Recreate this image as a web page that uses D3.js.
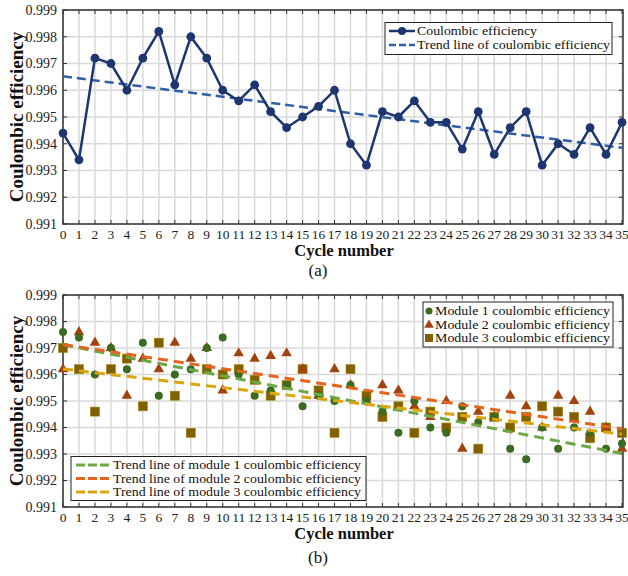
<!DOCTYPE html>
<html>
<head>
<meta charset="utf-8">
<script src="https://cdn.jsdelivr.net/npm/d3@7"></script>
<style>
  body { margin: 0; background: #fff; }
  svg { font-family: "Liberation Serif", "Times New Roman", serif; }
</style>
</head>
<body>
<div id="chart"></div>
<script>
// cycle numbers on the x axis and the value ticks on the y axis
const cycles = [0,1,2,3,4,5,6,7,8,9,10,11,12,13,14,15,16,17,18,19,20,21,22,23,24,25,26,27,28,29,30,31,32,33,34,35];
const yTicks = [0.991,0.992,0.993,0.994,0.995,0.996,0.997,0.998,0.999];

// panel (a): pack coulombic efficiency
const effA = [0.9944,0.9934,0.9972,0.9970,0.9960,0.9972,0.9982,0.9962,0.9980,0.9972,0.9960,0.9956,0.9962,0.9952,0.9946,0.9950,0.9954,0.9960,0.9940,0.9932,0.9952,0.9950,0.9956,0.9948,0.9948,0.9938,0.9952,0.9936,0.9946,0.9952,0.9932,0.9940,0.9936,0.9946,0.9936,0.9948];
// trend lines are given by their two end points (cycle 0 and 35)
const trendCycles = [0, 35];
const trendA = [0.99652, 0.99385];

// panel (b): three modules
const module1 = [0.9976,0.9974,0.9960,0.9970,0.9962,0.9972,0.9952,0.9960,0.9962,0.9970,0.9974,0.9960,0.9952,0.9954,0.9956,0.9948,0.9952,0.9950,0.9956,0.9950,0.9946,0.9938,0.9950,0.9940,0.9938,0.9948,0.9942,0.9944,0.9932,0.9928,0.9940,0.9932,0.9940,0.9938,0.9932,0.9934];
const module2 = [0.9962,0.9976,0.9972,0.9970,0.9952,0.9966,0.9962,0.9972,0.9966,0.9970,0.9954,0.9968,0.9966,0.9967,0.9968,0.9962,0.9952,0.9962,0.9956,0.9950,0.9956,0.9954,0.9948,0.9944,0.9950,0.9932,0.9946,0.9944,0.9952,0.9948,0.9940,0.9952,0.9950,0.9946,0.9940,0.9932];
const module3 = [0.9970,0.9962,0.9946,0.9962,0.9966,0.9948,0.9972,0.9952,0.9938,0.9962,0.9960,0.9962,0.9958,0.9952,0.9956,0.9962,0.9954,0.9938,0.9962,0.9952,0.9944,0.9948,0.9938,0.9946,0.9940,0.9944,0.9932,0.9944,0.9940,0.9944,0.9948,0.9946,0.9944,0.9936,0.9940,0.9938];
const trend1 = [0.99712, 0.99302];
const trend2 = [0.99713, 0.99395];
const trend3 = [0.99621, 0.99375];

const W = 628, H = 576;
const svg = d3.select("#chart").append("svg")
    .attr("width", W).attr("height", H);

const x = d3.scaleLinear().domain([0, 35]).range([63, 622]);

// draws grid, frame, ticks and labels for one panel, returns its y scale
function panel(top, bottom, tag, tagOff) {
    const y = d3.scaleLinear().domain([0.991, 0.999]).range([bottom, top]);
    const g = svg.append("g");

    // grid
    g.selectAll(".vg").data(cycles).join("line")
        .attr("x1", d => x(d)).attr("x2", d => x(d))
        .attr("y1", top).attr("y2", bottom)
        .attr("stroke", "#d9d9d9").attr("stroke-width", 1.5);
    g.selectAll(".hg").data(yTicks).join("line")
        .attr("x1", x(0)).attr("x2", x(35) + 1)
        .attr("y1", d => y(d)).attr("y2", d => y(d))
        .attr("stroke", "#d9d9d9").attr("stroke-width", 1.5);

    // inward ticks on all four sides
    const tk = 4;
    g.selectAll(".tt").data(cycles).join("line")
        .attr("x1", d => x(d)).attr("x2", d => x(d))
        .attr("y1", top).attr("y2", top + tk)
        .attr("stroke", "#333").attr("stroke-width", 1);
    g.selectAll(".tb").data(cycles).join("line")
        .attr("x1", d => x(d)).attr("x2", d => x(d))
        .attr("y1", bottom).attr("y2", bottom - tk)
        .attr("stroke", "#333").attr("stroke-width", 1);
    g.selectAll(".tl").data(yTicks).join("line")
        .attr("x1", x(0)).attr("x2", x(0) + tk)
        .attr("y1", d => y(d)).attr("y2", d => y(d))
        .attr("stroke", "#333").attr("stroke-width", 1);
    g.selectAll(".tr").data(yTicks).join("line")
        .attr("x1", x(35) + 1).attr("x2", x(35) + 1 - tk)
        .attr("y1", d => y(d)).attr("y2", d => y(d))
        .attr("stroke", "#333").attr("stroke-width", 1);

    // frame
    g.append("rect")
        .attr("x", x(0)).attr("y", top)
        .attr("width", x(35) + 1 - x(0)).attr("height", bottom - top)
        .attr("fill", "none").attr("stroke", "#333").attr("stroke-width", 1.5);

    // tick labels
    g.selectAll(".yl").data(yTicks).join("text")
        .attr("x", x(0) - 6).attr("y", d => y(d))
        .attr("dy", "0.35em").attr("text-anchor", "end")
        .attr("font-size", 14).attr("fill", "#222")
        .text(d => d3.format(".3f")(d));
    g.selectAll(".xl").data(cycles).join("text")
        .attr("x", d => x(d)).attr("y", bottom + 15)
        .attr("text-anchor", "middle")
        .attr("font-size", 13.5).attr("fill", "#222")
        .text(d => d);

    // axis titles
    g.append("text")
        .attr("transform", `translate(23, ${(top + bottom) / 2}) rotate(-90)`)
        .attr("text-anchor", "middle").attr("font-weight", "bold")
        .attr("font-size", 19).attr("fill", "#111")
        .text("Coulombic efficiency");
    g.append("text")
        .attr("x", 344).attr("y", bottom + 32)
        .attr("text-anchor", "middle").attr("font-weight", "bold")
        .attr("font-size", 16.5).attr("fill", "#111")
        .text("Cycle number");
    g.append("text")
        .attr("x", 318).attr("y", bottom + tagOff)
        .attr("text-anchor", "middle")
        .attr("font-size", 17).attr("fill", "#111")
        .text(tag);
    return y;
}

// ---------- panel (a) ----------
const yA = panel(10, 224, "(a)", 52);
const navy = "#1d3670", blue = "#2f5ea6";

svg.append("path")
    .datum(trendCycles.map((c, i) => [c, trendA[i]]))
    .attr("fill", "none").attr("stroke", blue).attr("stroke-width", 2.5)
    .attr("stroke-dasharray", "9,5")
    .attr("d", d3.line().x(d => x(d[0])).y(d => yA(d[1])));

svg.append("path")
    .datum(cycles.map((c, i) => [c, effA[i]]))
    .attr("fill", "none").attr("stroke", navy).attr("stroke-width", 2.5)
    .attr("d", d3.line().x(d => x(d[0])).y(d => yA(d[1])));

svg.selectAll(".ptA").data(cycles).join("circle")
    .attr("cx", d => x(d)).attr("cy", (d, i) => yA(effA[i]))
    .attr("r", 4.4).attr("fill", navy);

// legend (a)
const legA = svg.append("g");
const rowA = [31, 45];
legA.append("rect").attr("x", 385).attr("y", 22.5).attr("width", 227).attr("height", 32)
    .attr("fill", "#fff").attr("stroke", "#222").attr("stroke-width", 1);
legA.append("line").attr("x1", 389).attr("x2", 415).attr("y1", rowA[0]).attr("y2", rowA[0])
    .attr("stroke", navy).attr("stroke-width", 2.5);
legA.append("circle").attr("cx", 402).attr("cy", rowA[0]).attr("r", 4).attr("fill", navy);
legA.append("line").attr("x1", 389).attr("x2", 415).attr("y1", rowA[1]).attr("y2", rowA[1])
    .attr("stroke", blue).attr("stroke-width", 2.5).attr("stroke-dasharray", "7,3");
legA.append("text").attr("x", 417).attr("y", rowA[0]).attr("dy", "0.35em")
    .attr("font-size", 12.5).attr("fill", "#111")
    .attr("textLength", 120).attr("lengthAdjust", "spacingAndGlyphs")
    .text("Coulombic efficiency");
legA.append("text").attr("x", 417).attr("y", rowA[1]).attr("dy", "0.35em")
    .attr("font-size", 12.5).attr("fill", "#111")
    .attr("textLength", 193).attr("lengthAdjust", "spacingAndGlyphs")
    .text("Trend line of coulombic efficiency");

// ---------- panel (b) ----------
const yB = panel(295, 507, "(b)", 56);
const cGreen = "#3b6a21", cBrown = "#a2420c", cOlive = "#806000";
const tGreen = "#6aa944", tOrange = "#e2661f", tGold = "#dba512";

const sq = 9;
svg.selectAll(".m3").data(cycles).join("rect")
    .attr("x", d => x(d) - sq / 2).attr("y", (d, i) => yB(module3[i]) - sq / 2)
    .attr("width", sq).attr("height", sq).attr("fill", cOlive)
    .attr("stroke", "#a08000").attr("stroke-width", 0.6);
svg.selectAll(".m2").data(cycles).join("path")
    .attr("transform", (d, i) => `translate(${x(d)},${yB(module2[i])})`)
    .attr("d", d3.symbol(d3.symbolTriangle, 48)())
    .attr("fill", cBrown);
svg.selectAll(".m1").data(cycles).join("circle")
    .attr("cx", d => x(d)).attr("cy", (d, i) => yB(module1[i]))
    .attr("r", 4).attr("fill", cGreen);

[[trend1, tGreen], [trend2, tOrange], [trend3, tGold]].forEach(([t, col]) => {
    svg.append("path")
        .datum(trendCycles.map((c, i) => [c, t[i]]))
        .attr("fill", "none").attr("stroke", col).attr("stroke-width", 3)
        .attr("stroke-dasharray", "10,6")
        .attr("d", d3.line().x(d => x(d[0])).y(d => yB(d[1])));
});

// legend markers (b)
const legB = svg.append("g");
legB.append("rect").attr("x", 423).attr("y", 302).attr("width", 190).attr("height", 45)
    .attr("fill", "#fff").attr("stroke", "#222").attr("stroke-width", 1);
const markNames = ["Module 1 coulombic efficiency", "Module 2 coulombic efficiency", "Module 3 coulombic efficiency"];
const rowB = [311, 324.5, 338];
markNames.forEach((n, i) => {
    legB.append("text").attr("x", 435).attr("y", rowB[i]).attr("dy", "0.35em")
        .attr("font-size", 12.5).attr("fill", "#111")
        .attr("textLength", 175).attr("lengthAdjust", "spacingAndGlyphs")
        .text(n);
});
legB.append("circle").attr("cx", 429).attr("cy", rowB[0]).attr("r", 3.5).attr("fill", cGreen);
legB.append("path").attr("transform", `translate(429,${rowB[1] + 0.5})`)
    .attr("d", d3.symbol(d3.symbolTriangle, 40)()).attr("fill", cBrown);
legB.append("rect").attr("x", 425).attr("y", rowB[2] - 4).attr("width", 8).attr("height", 8).attr("fill", cOlive);

// legend trend lines (b)
const legC = svg.append("g");
legC.append("rect").attr("x", 71).attr("y", 456.5).attr("width", 295).attr("height", 44)
    .attr("fill", "#fff").attr("stroke", "#222").attr("stroke-width", 1);
const trendNames = ["Trend line of module 1 coulombic efficiency", "Trend line of module 2 coulombic efficiency", "Trend line of module 3 coulombic efficiency"];
[tGreen, tOrange, tGold].forEach((col, i) => {
    const yy = 465 + i * 13.5;
    legC.append("line").attr("x1", 76).attr("x2", 110).attr("y1", yy).attr("y2", yy)
        .attr("stroke", col).attr("stroke-width", 3).attr("stroke-dasharray", "9,3");
    legC.append("text").attr("x", 113).attr("y", yy).attr("dy", "0.35em")
        .attr("font-size", 12.5).attr("fill", "#111")
        .attr("textLength", 248).attr("lengthAdjust", "spacingAndGlyphs")
        .text(trendNames[i]);
});
</script>
</body>
</html>
